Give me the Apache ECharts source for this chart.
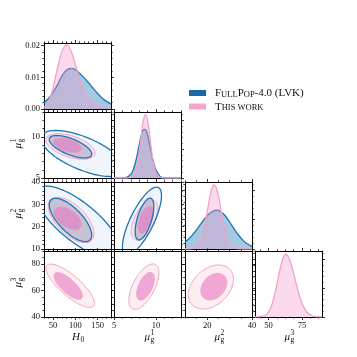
<!DOCTYPE html>
<html><head><meta charset="utf-8">
<script src="https://cdn.jsdelivr.net/npm/echarts@6/dist/echarts.min.js"></script>
<style>html,body{margin:0;padding:0;background:#fff}#c{width:357px;height:357px}</style>
</head><body><div id="c"></div>
<script>
// ---------------- data ----------------
const paramRanges = [[30,180],[5,13],[10,40],[40,90]];      // H0, mu1, mu2, mu3
const xMajorTicks = [[50,100,150],[5,10],[20,40],[50,75]];
const xMinorStep  = [10,1,5,6.25];
const yMajorTicks = [null,[5,10],[10,20,30,40],[40,60,80]];
const yMinorStep  = [null,1,2,5];
const diagYRange  = [[0,0.0208],[0,1],[0,1],[0,1]];
const diagYTicks  = [[0,0.01,0.02],[0,0.437,0.874],[0,0.437,0.874],[0,0.437,0.874]];
const diagYMinor  = [0.002,0.0874,0.0874,0.0874];

const H0Grid = [30,40,50,60,70,80,90,100,110,120,130,140,150,160,170,180];
const H0LVK  = [0.0019,0.0033,0.0052,0.0076,0.0104,0.0122,0.0128,0.0124,0.0112,0.0098,0.0082,0.0065,0.0049,0.0035,0.0024,0.0016];
const H0This = [0.0004,0.0022,0.0065,0.0128,0.0180,0.0202,0.0185,0.0140,0.0094,0.0057,0.0032,0.0018,0.0011,0.0007,0.0004,0.0003];

const mu1Grid = [5,5.5,6,6.5,7,7.25,7.5,7.75,8,8.25,8.5,8.75,9,9.25,9.5,9.75,10,10.5,11,11.5,12,13];
const mu1LVK  = [0,0,0.001,0.008,0.052,0.110,0.205,0.340,0.496,0.641,0.731,0.736,0.655,0.515,0.358,0.219,0.119,0.024,0.003,0,0,0];
const mu1This = [0,0,0,0,0.007,0.025,0.077,0.189,0.383,0.635,0.864,0.962,0.878,0.656,0.402,0.202,0.083,0.008,0,0,0,0];

const mu2GridLVK = [10,12,14,16,18,20,22,24,26,28,30,32,34,36,38,40];
const mu2LVK     = [0.100,0.160,0.236,0.324,0.416,0.498,0.556,0.580,0.560,0.496,0.403,0.300,0.205,0.129,0.074,0.039];
const mu2GridThis = [10,12,14,15,16,17,18,19,20,21,22,23,24,25,26,27,28,29,30,31,32,34,36,40];
const mu2This     = [0,0.001,0.011,0.028,0.064,0.129,0.236,0.387,0.569,0.753,0.895,0.955,0.914,0.787,0.608,0.421,0.263,0.147,0.074,0.033,0.013,0.002,0,0];

const mu3Grid = [40,42,44,46,48,50,52,54,56,58,60,62,63,64,66,68,70,72,74,76,78,80,82,84,86,88,90];
const mu3This = [0,0.001,0.004,0.012,0.031,0.073,0.153,0.281,0.457,0.657,0.835,0.938,0.95,0.938,0.861,0.729,0.568,0.408,0.270,0.165,0.093,0.048,0.023,0.010,0.004,0.002,0.001];

// credible contours: [centerX, centerY, halfExtentX, halfExtentY, correlation]  (outer, inner)
const cH0Mu1LVK  = [[117.3,7.97,94,2.79,-0.65],[89.3,8.79,47.5,1.36,-0.65]];
const cH0Mu1This = [[89.3,8.82,54.8,1.55,-0.5],[82.6,8.96,31.8,0.91,-0.45]];
const cH0Mu2LVK  = [[106.1,22.1,94,16.1,-0.75],[89.3,23.0,47.5,9.7,-0.7]];
const cH0Mu2This = [[90.9,23.0,51.3,10.2,-0.6],[83.3,23.7,31,5.2,-0.5]];
const cH0Mu3This = [[88.7,63.7,54.2,16.4,-0.8],[84.2,63.5,31.7,10.1,-0.75]];
const cMu1Mu2LVK  = [[8.34,22.5,2.33,15.2,0.75],[8.64,23.4,1.11,9.36,0.6]];
const cMu1Mu2This = [[8.64,22.9,1.59,8.96,0.55],[8.76,23.1,0.93,6.1,0.5]];
const cMu1Mu3This = [[8.56,63.0,1.79,17.2,0.6],[8.76,63.3,1.05,10.5,0.55]];
const cMu2Mu3This = [[21.6,62.7,10.1,16.7,0.35],[22.9,63.0,5.8,10.1,0.3]];

const NAME_LVK = 'FullPop-4.0 (LVK)';
const NAME_THIS = 'This work';
// ---------------- layout / style ----------------
const FONT = 'Liberation Serif';
const rowsTop = [43,112,182,251], rowsH = [66,66,67,66];
const colsLeft = [44,114,185,255], colW = 67;
const BLUE = '#1f74b3', PINK = '#f2a2c9';

function minorTicks(min, max, major, step) {
  const out = [];
  const start = major[0] - Math.floor((major[0]-min)/step + 1e-9)*step;
  for (let v = start; v <= max + 1e-9; v += step) {
    if (!major.some(m => Math.abs(m - v) < 1e-9)) out.push(+v.toFixed(6));
  }
  return out;
}
function mkAxis(gi, pos, min, max, ticks, len, showLine, labels, fmt) {
  return {
    type: 'value', gridIndex: gi, position: pos, min: min, max: max,
    axisLine: {show: showLine, onZero: false, lineStyle: {color: '#000', width: 1}},
    axisTick: {show: true, inside: false, length: len, customValues: ticks, lineStyle: {color: '#000', width: 0.8}},
    axisLabel: labels ? {show: true, customValues: labels, formatter: fmt, margin: 4, fontSize: 8.5,
      fontFamily: FONT, color: '#111', showMinLabel: true, showMaxLabel: true} : {show: false},
    splitLine: {show: false}, minorTick: {show: false}, splitArea: {show: false}
  };
}

const grids = [], xAxes = [], yAxes = [], series = [];
const panel = {};
for (let r = 0; r < 4; r++) {
  for (let c = 0; c <= r; c++) {
    const gi = grids.length;
    grids.push({left: colsLeft[c], top: rowsTop[r], width: colW, height: rowsH[r], show: false});
    const xr = paramRanges[c];
    const xMaj = xMajorTicks[c], xMin = minorTicks(xr[0], xr[1], xMaj, xMinorStep[c]);
    let yr, yMaj, yMin;
    if (r === c) { yr = diagYRange[r]; yMaj = diagYTicks[r]; yMin = minorTicks(yr[0], yr[1], yMaj, diagYMinor[r]); }
    else { yr = paramRanges[r]; yMaj = yMajorTicks[r]; yMin = minorTicks(yr[0], yr[1], yMaj, yMinorStep[r]); }
    const xi = xAxes.length, yi = yAxes.length;
    const showXLab = r === 3, showYLab = c === 0;
    const yFmt = (r === 0) ? (v => v.toFixed(2)) : (v => String(v));
    xAxes.push(mkAxis(gi, 'bottom', xr[0], xr[1], xMaj, 3, true, showXLab ? xMaj : null, v => String(v)));
    xAxes.push(mkAxis(gi, 'bottom', xr[0], xr[1], xMin, 1.6, false, null));
    xAxes.push(mkAxis(gi, 'top', xr[0], xr[1], xMaj, 3, true, null));
    xAxes.push(mkAxis(gi, 'top', xr[0], xr[1], xMin, 1.6, false, null));
    yAxes.push(mkAxis(gi, 'left', yr[0], yr[1], yMaj, 3, true, showYLab ? yMaj : null, yFmt));
    yAxes.push(mkAxis(gi, 'left', yr[0], yr[1], yMin, 1.6, false, null));
    yAxes.push(mkAxis(gi, 'right', yr[0], yr[1], yMaj, 3, true, null));
    yAxes.push(mkAxis(gi, 'right', yr[0], yr[1], yMin, 1.6, false, null));
    panel[r + '-' + c] = {xi, yi};
  }
}

function zip(xs, ys) { return xs.map((x, i) => [x, ys[i]]); }
function diag(r, name, xs, ys, line, area, z) {
  const p = panel[r + '-' + r];
  series.push({type: 'line', name, xAxisIndex: p.xi, yAxisIndex: p.yi, data: zip(xs, ys),
    smooth: 0.3, symbol: 'none', clip: true, silent: true, z,
    lineStyle: {color: line, width: 1.3}, areaStyle: {color: area, opacity: 1}, itemStyle: {color: line}});
}
function contours(r, c, name, list, mode, color, z, width) {
  const p = panel[r + '-' + c];
  series.push({
    type: 'custom', name, xAxisIndex: p.xi, yAxisIndex: p.yi, coordinateSystem: 'cartesian2d',
    clip: true, silent: true, z,
    data: list.map((e, i) => [e[0], e[1], e[2], e[3], e[4], i]),
    encode: {x: 0, y: 1},
    itemStyle: {color: mode === 'fill' ? color[0] : color},
    renderItem: function (params, api) {
      const mx = api.value(0), my = api.value(1), ax = api.value(2), ay = api.value(3), rho = api.value(4), lvl = api.value(5);
      const s = Math.sqrt(1 - rho * rho), pts = [];
      for (let k = 0; k < 120; k++) {
        const t = 2 * Math.PI * k / 120;
        pts.push(api.coord([mx + ax * Math.cos(t), my + ay * (rho * Math.cos(t) + s * Math.sin(t))]));
      }
      const style = mode === 'fill' ? {fill: color[lvl], stroke: null}
                                    : {fill: 'none', stroke: color, lineWidth: width};
      return {type: 'polygon', shape: {points: pts}, style: style};
    }
  });
}

// diagonal
diag(0, NAME_LVK, H0Grid, H0LVK, BLUE, 'rgba(31,119,180,0.40)', 2);
diag(0, NAME_THIS, H0Grid, H0This, PINK, 'rgba(240,150,200,0.35)', 3);
diag(1, NAME_LVK, mu1Grid, mu1LVK, BLUE, 'rgba(31,119,180,0.40)', 2);
diag(1, NAME_THIS, mu1Grid, mu1This, PINK, 'rgba(240,150,200,0.35)', 3);
diag(2, NAME_LVK, mu2GridLVK, mu2LVK, BLUE, 'rgba(31,119,180,0.40)', 2);
diag(2, NAME_THIS, mu2GridThis, mu2This, PINK, 'rgba(240,150,200,0.35)', 3);
diag(3, NAME_THIS, mu3Grid, mu3This, PINK, 'rgba(240,150,200,0.35)', 3);

// off-diagonal
const blueFill = ['rgba(31,119,180,0.07)', 'rgba(60,90,140,0.27)'];
const pinkFill = ['rgba(245,160,185,0.18)', 'rgba(230,110,190,0.55)'];
const pairs = [
  [1,0,cH0Mu1LVK,cH0Mu1This],[2,0,cH0Mu2LVK,cH0Mu2This],[3,0,null,cH0Mu3This],
  [2,1,cMu1Mu2LVK,cMu1Mu2This],[3,1,null,cMu1Mu3This],[3,2,null,cMu2Mu3This]
];
pairs.forEach(([r, c, lvk, tw]) => {
  if (lvk) contours(r, c, NAME_LVK, lvk, 'fill', blueFill, 2);
  contours(r, c, NAME_THIS, tw, 'fill', pinkFill, 3);
  contours(r, c, NAME_THIS, tw, 'line', PINK, 4, 1);
  if (lvk) contours(r, c, NAME_LVK, lvk, 'line', BLUE, 5, 1.3);
});

// axis names (math labels)
function mathLabel(cx, cy, rot, base, sup, sub) {
  const children = [
    {type: 'text', x: 0, y: 0, style: {text: base, font: 'italic 11px "' + FONT + '"', fill: '#111', align: 'right', verticalAlign: 'middle'}}
  ];
  if (sup) children.push({type: 'text', x: 0.5, y: -3.5, style: {text: sup, font: '7.5px "' + FONT + '"', fill: '#111', align: 'left', verticalAlign: 'middle'}});
  if (sub) children.push({type: 'text', x: 0.5, y: 3, style: {text: sub, font: '7.5px "' + FONT + '"', fill: '#111', align: 'left', verticalAlign: 'middle'}});
  return {type: 'group', x: cx, y: cy, rotation: rot, children};
}
const graphics = [
  mathLabel(80, 337, 0, 'H', null, '0'),
  mathLabel(150, 337, 0, 'μ', '1', 'g'),
  mathLabel(220, 337, 0, 'μ', '2', 'g'),
  mathLabel(290, 337, 0, 'μ', '3', 'g'),
  mathLabel(18, 143, Math.PI / 2, 'μ', '1', 'g'),
  mathLabel(18, 213, Math.PI / 2, 'μ', '2', 'g'),
  mathLabel(18, 282, Math.PI / 2, 'μ', '3', 'g')
];

const chart = echarts.init(document.getElementById('c'), null, {renderer: 'canvas'});
chart.setOption({
  animation: false,
  backgroundColor: '#fff',
  grid: grids, xAxis: xAxes, yAxis: yAxes, series,
  graphic: graphics,
  legend: {
    left: 189, top: 88, padding: 0, orient: 'vertical', icon: 'rect', itemWidth: 17, itemHeight: 6, itemGap: 2.5,
    selectedMode: false,
    data: [{name: NAME_LVK, itemStyle: {color: '#1668a8'}, lineStyle: {width: 0}},
           {name: NAME_THIS, itemStyle: {color: '#f0a6d0'}, lineStyle: {width: 0}}],
    formatter: function (n) {
      if (n === NAME_LVK) return '{p|F}{s|ULL}{c|P}{s|OP}{c|-4.0 (LVK)}';
      return '{p|T}{s|HIS WORK}';
    },
    textStyle: {rich: {
      p: {fontSize: 11, fontFamily: FONT, color: '#111', lineHeight: 12, verticalAlign: 'bottom', padding: [0, 0, 0, 4]},
      c: {fontSize: 11, fontFamily: FONT, color: '#111', lineHeight: 12, verticalAlign: 'bottom'},
      s: {fontSize: 8.5, fontFamily: FONT, color: '#111', lineHeight: 9, verticalAlign: 'bottom'}
    }}
  }
});
</script></body></html>
